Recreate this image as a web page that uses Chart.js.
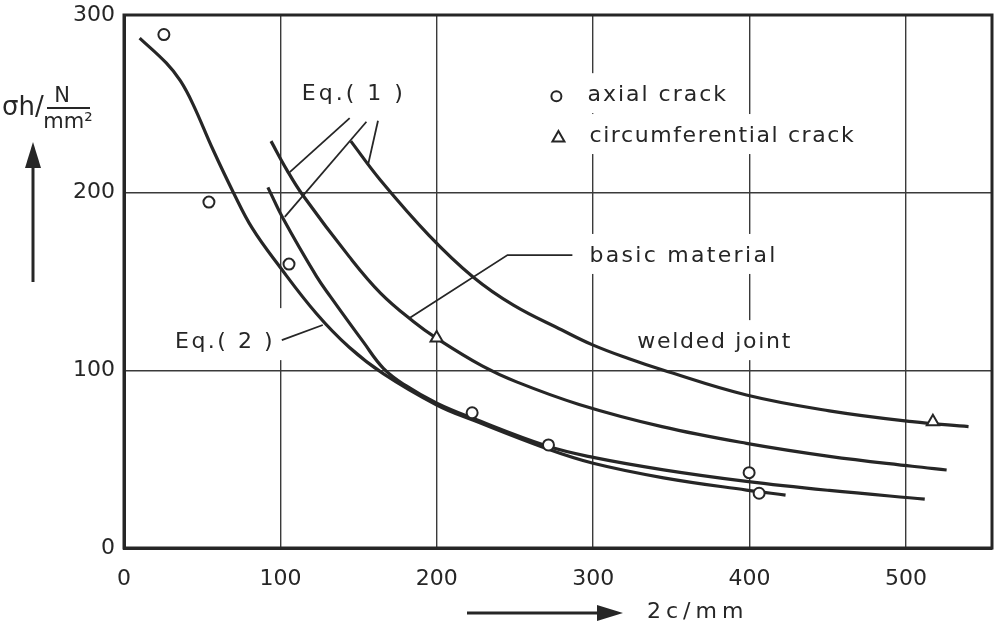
<!DOCTYPE html>
<html>
<head>
<meta charset="utf-8">
<script src="https://cdn.jsdelivr.net/npm/chart.js@4.4.1/dist/chart.umd.min.js"></script>
<style>
html, body { margin: 0; padding: 0; background: #fff; }
canvas { display: block; }
</style>
</head>
<body>
<canvas id="chart" width="1001" height="626"></canvas>
<script>
// Hoop stress vs crack length 2c
const xTicks = [0, 100, 200, 300, 400, 500];
const yTicks = [0, 100, 200, 300];

// Eq.(2)
const eq2X = [10, 27, 36, 44, 57, 70, 82, 99, 123, 144, 166, 200, 223, 270, 300, 345, 398, 423];
const eq2Y = [287, 273, 263, 250, 224, 200, 180, 159, 132, 113, 98, 80.5, 72, 56, 47.7, 39.5, 32.6, 29.8];

// Eq.(1) - three curves
const eq1X = [92, 102, 123, 132, 153, 166, 180, 200, 223, 270, 300, 345, 398, 451, 512];
const eq1Y = [203, 185, 153, 141.5, 116, 101, 91.5, 81.5, 73, 57.5, 51, 44, 37.5, 32.4, 27.5];
const basicX = [94, 104, 114, 144, 164, 185, 200, 229, 251, 291, 344, 398, 451, 504, 526];
const basicY = [229, 213, 199, 164, 143.5, 127.5, 118, 102.5, 93.5, 80.8, 68.3, 58.9, 51.6, 46, 43.9];
const weldX = [145, 164, 195, 223, 249, 280, 300, 323, 344, 398, 451, 504, 540];
const weldY = [229, 207, 176, 152.7, 136.7, 122.7, 114.2, 106.5, 100.3, 86.1, 77.2, 71.1, 68.3];

// test results
const axialX = [25.5, 54.3, 105.5, 222.6, 271.4, 399.7, 406.1];
const axialY = [289, 194.7, 159.8, 76.1, 58, 42.4, 30.8];
const circX = [199.9, 517.2];
const circY = [118.2, 71.1];

const INK = "#262626";
const FONT = "DejaVu Sans";

function pts(xs, ys) {
    return xs.map((x, i) => ({ x: x, y: ys[i] }));
}

function curve(xs, ys) {
    return {
        data: pts(xs, ys),
        showLine: true,
        borderColor: INK,
        borderWidth: 3.2,
        pointRadius: 0,
        tension: 0.4,
        order: 2,
    };
}

// labels and leader lines, in data units
const notes = [
    { text: "Eq.( 1 )", x: 113.7, y: 252.1, sp: 3 },
    { text: "Eq.( 2 )", x: 32.6, y: 112.5, sp: 2.5, padR: 14, padT: 40 },
    { text: "axial crack", x: 296.3, y: 251.5, sp: 2, mark: "circle" },
    { text: "circumferential crack", x: 297.6, y: 228.5, sp: 1.6, mark: "triangle" },
    { text: "basic material", x: 297.6, y: 161, sp: 2.3 },
    { text: "welded joint", x: 328.2, y: 112.5, sp: 1.7 },
];
const leaders = [
    [[144.3, 242], [106, 211.6]],
    [[155, 239.9], [102.8, 186.4]],
    [[162.4, 240.5], [156, 215.5]],
    [[100.9, 117], [127.1, 125.5]],
    [[286.7, 164.9], [245.2, 164.9], [182.6, 129.4]],
];

function drawMark(ctx, kind, cx, cy) {
    ctx.save();
    ctx.strokeStyle = INK;
    ctx.fillStyle = "#fff";
    ctx.lineWidth = 2;
    ctx.beginPath();
    if (kind === "circle") {
        ctx.arc(cx, cy, 5, 0, Math.PI * 2);
    } else {
        ctx.moveTo(cx, cy - 6);
        ctx.lineTo(cx + 6, cy + 4.5);
        ctx.lineTo(cx - 6, cy + 4.5);
        ctx.closePath();
    }
    ctx.fill();
    ctx.stroke();
    ctx.restore();
}

function arrow(ctx, x1, y1, x2, y2) {
    const a = Math.atan2(y2 - y1, x2 - x1);
    const hl = 26, hw = 8;
    const bx = x2 - hl * Math.cos(a), by = y2 - hl * Math.sin(a);
    ctx.beginPath();
    ctx.moveTo(x1, y1);
    ctx.lineTo(bx, by);
    ctx.lineWidth = 3;
    ctx.stroke();
    ctx.beginPath();
    ctx.moveTo(x2, y2);
    ctx.lineTo(bx + hw * Math.sin(a), by - hw * Math.cos(a));
    ctx.lineTo(bx - hw * Math.sin(a), by + hw * Math.cos(a));
    ctx.closePath();
    ctx.fill();
}

const annotate = {
    id: "annotate",
    beforeDatasetsDraw(chart) {
        // white patches so the grid breaks behind the labels
        const { ctx, scales } = chart;
        ctx.save();
        ctx.font = "22px '" + FONT + "'";
        ctx.fillStyle = "#fff";
        notes.forEach((n) => {
            ctx.letterSpacing = n.sp + "px";
            const px = scales.x.getPixelForValue(n.x);
            const py = scales.y.getPixelForValue(n.y);
            const w = ctx.measureText(n.text).width;
            const left = n.mark ? px - 42 : px - 6;
            const top = py - (n.padT || 28);
            ctx.fillRect(left, top, px + w + 6 + (n.padR || 0) - left, py + 12 - top);
        });
        ctx.restore();
    },
    afterDatasetsDraw(chart) {
        const { ctx, scales, chartArea } = chart;
        ctx.save();
        ctx.strokeStyle = INK;
        ctx.fillStyle = INK;

        ctx.lineWidth = 1.8;
        leaders.forEach((l) => {
            ctx.beginPath();
            l.forEach((p, i) => {
                const px = scales.x.getPixelForValue(p[0]);
                const py = scales.y.getPixelForValue(p[1]);
                if (i === 0) ctx.moveTo(px, py);
                else ctx.lineTo(px, py);
            });
            ctx.stroke();
        });

        ctx.font = "22px '" + FONT + "'";
        ctx.textBaseline = "alphabetic";
        notes.forEach((n) => {
            const px = scales.x.getPixelForValue(n.x);
            const py = scales.y.getPixelForValue(n.y);
            ctx.letterSpacing = n.sp + "px";
            ctx.fillText(n.text, px, py);
            if (n.mark) drawMark(ctx, n.mark, px - 31, py - 5);
        });
        ctx.letterSpacing = "0px";

        // frame
        ctx.lineWidth = 3;
        ctx.strokeRect(chartArea.left, chartArea.top,
            chartArea.right - chartArea.left, chartArea.bottom - chartArea.top);
        ctx.restore();
    },
    afterDraw(chart) {
        const { ctx, chartArea } = chart;
        const L = chartArea.left, B = chartArea.bottom;
        ctx.save();
        ctx.strokeStyle = INK;
        ctx.fillStyle = INK;
        ctx.textBaseline = "alphabetic";

        // y title: sigma_h / (N/mm2)
        ctx.font = "26px '" + FONT + "'";
        ctx.fillText("σh/", L - 122, 115);
        ctx.font = "21px '" + FONT + "'";
        ctx.textAlign = "center";
        ctx.fillText("N", L - 62, 102);
        ctx.fillText("mm²", L - 56, 128);
        ctx.lineWidth = 2;
        ctx.beginPath();
        ctx.moveTo(L - 77, 108);
        ctx.lineTo(L - 34, 108);
        ctx.stroke();
        arrow(ctx, L - 91, 282, L - 91, 142);

        // x title
        arrow(ctx, 467, B + 65, 623, B + 65);
        ctx.textAlign = "left";
        ctx.font = "22px '" + FONT + "'";
        ctx.letterSpacing = "5px";
        ctx.fillText("2c/mm", 647, B + 70);
        ctx.restore();
    },
};

const tickFont = { family: FONT, size: 22 };

new Chart(document.getElementById("chart"), {
    type: "scatter",
    data: {
        datasets: [
            curve(eq2X, eq2Y),
            curve(eq1X, eq1Y),
            curve(basicX, basicY),
            curve(weldX, weldY),
            {
                data: pts(axialX, axialY),
                pointStyle: "circle",
                pointRadius: 5.5,
                pointBorderWidth: 2,
                pointBorderColor: INK,
                pointBackgroundColor: "#fff",
                order: 1,
            },
            {
                data: pts(circX, circY),
                pointStyle: "triangle",
                pointRadius: 7,
                pointBorderWidth: 2,
                pointBorderColor: INK,
                pointBackgroundColor: "#fff",
                order: 1,
            },
        ],
    },
    options: {
        responsive: false,
        animation: false,
        devicePixelRatio: 1,
        layout: { padding: { top: 15, right: 7, left: 0, bottom: 0 } },
        plugins: {
            legend: { display: false },
            tooltip: { enabled: false },
        },
        scales: {
            x: {
                type: "linear",
                min: 0,
                max: 555,
                afterBuildTicks: (s) => { s.ticks = xTicks.map((v) => ({ value: v })); },
                afterFit: (s) => { s.height = 78; s.paddingLeft = 0; s.paddingRight = 0; },
                grid: { color: "#3a3a3a", lineWidth: 1.4, drawTicks: false },
                border: { color: INK, width: 3 },
                ticks: { padding: 18, color: INK, font: tickFont },
            },
            y: {
                min: 0,
                max: 300,
                afterBuildTicks: (s) => { s.ticks = yTicks.map((v) => ({ value: v })); },
                afterFit: (s) => { s.width = 124; s.paddingTop = 0; s.paddingBottom = 0; },
                grid: { color: "#3a3a3a", lineWidth: 1.4, drawTicks: false },
                border: { color: INK, width: 3 },
                ticks: { padding: 9, color: INK, font: tickFont },
            },
        },
    },
    plugins: [annotate],
});
</script>
</body>
</html>
